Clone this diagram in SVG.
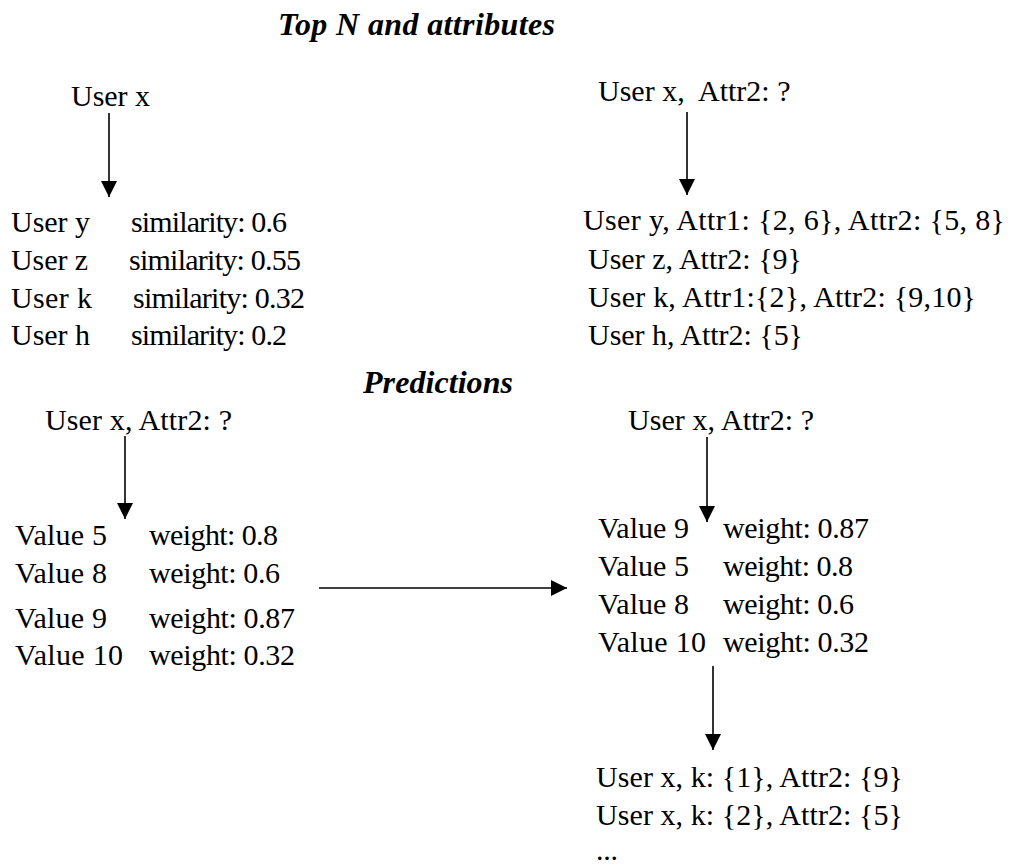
<svg xmlns="http://www.w3.org/2000/svg" width="1011" height="866" viewBox="0 0 1011 866">
<style>
text{font-family:"Liberation Serif","Times New Roman",serif;font-size:30px;fill:#000}
.h{font-weight:bold;font-style:italic;font-size:32px}
.c line{stroke:#000;stroke-width:1.6}
</style>
<defs>
<marker id="ahb" viewBox="0 0 16 16" refX="16" refY="8" markerWidth="16" markerHeight="16" markerUnits="userSpaceOnUse" orient="auto">
<path d="M0,0 L16,8 L0,16 z" fill="#000"/>
</marker>
</defs>
<rect width="1011" height="866" fill="#fff"/>
<g id="title-top"><text class="h" x="278" y="35" textLength="277" lengthAdjust="spacing">Top N and attributes</text></g>
<g id="title-pred"><text class="h" x="363" y="393" textLength="150" lengthAdjust="spacing">Predictions</text></g>

<g id="n-userx-1"><text x="71" y="106" textLength="79" lengthAdjust="spacing">User x</text></g>
<g id="n-similarities">
<text x="11" y="232" textLength="79" lengthAdjust="spacing">User y</text><text x="131" y="232" textLength="156" lengthAdjust="spacing">similarity: 0.6</text>
<text x="11" y="270" textLength="77" lengthAdjust="spacing">User z</text><text x="129" y="270" textLength="172" lengthAdjust="spacing">similarity: 0.55</text>
<text x="11" y="308" textLength="81" lengthAdjust="spacing">User k</text><text x="133" y="308" textLength="172" lengthAdjust="spacing">similarity: 0.32</text>
<text x="11" y="345" textLength="79" lengthAdjust="spacing">User h</text><text x="131" y="345" textLength="156" lengthAdjust="spacing">similarity: 0.2</text>
</g>

<g id="n-userx-2"><text x="598" y="101">User x,<tspan x="698">Attr2: ?</tspan></text></g>
<g id="n-attributes">
<text x="583" y="230" textLength="422" lengthAdjust="spacing">User y, Attr1: {2, 6}, Attr2: {5, 8}</text>
<text x="588" y="269" textLength="214" lengthAdjust="spacing">User z, Attr2: {9}</text>
<text x="588" y="307" textLength="388" lengthAdjust="spacing">User k, Attr1:{2}, Attr2: {9,10}</text>
<text x="588" y="345" textLength="215" lengthAdjust="spacing">User h, Attr2: {5}</text>
</g>

<g id="n-userx-3"><text x="45" y="430" textLength="187" lengthAdjust="spacing">User x, Attr2: ?</text></g>
<g id="n-values-1">
<text x="15" y="545" textLength="92" lengthAdjust="spacing">Value 5</text><text x="149" y="545" textLength="129" lengthAdjust="spacing">weight: 0.8</text>
<text x="15" y="583" textLength="92" lengthAdjust="spacing">Value 8</text><text x="149" y="583" textLength="131" lengthAdjust="spacing">weight: 0.6</text>
<text x="15" y="628" textLength="92" lengthAdjust="spacing">Value 9</text><text x="149" y="628" textLength="146" lengthAdjust="spacing">weight: 0.87</text>
<text x="15" y="665" textLength="108" lengthAdjust="spacing">Value 10</text><text x="149" y="665" textLength="146" lengthAdjust="spacing">weight: 0.32</text>
</g>

<g id="n-userx-4"><text x="628" y="430" textLength="186" lengthAdjust="spacing">User x, Attr2: ?</text></g>
<g id="n-values-2">
<text x="598" y="538" textLength="91" lengthAdjust="spacing">Value 9</text><text x="723" y="538" textLength="146" lengthAdjust="spacing">weight: 0.87</text>
<text x="598" y="576" textLength="91" lengthAdjust="spacing">Value 5</text><text x="723" y="576" textLength="130" lengthAdjust="spacing">weight: 0.8</text>
<text x="598" y="614" textLength="91" lengthAdjust="spacing">Value 8</text><text x="723" y="614" textLength="131" lengthAdjust="spacing">weight: 0.6</text>
<text x="598" y="652" textLength="108" lengthAdjust="spacing">Value 10</text><text x="723" y="652" textLength="146" lengthAdjust="spacing">weight: 0.32</text>
</g>

<g id="n-result">
<text x="596" y="787" textLength="307" lengthAdjust="spacing">User x, k: {1}, Attr2: {9}</text>
<text x="596" y="825" textLength="307" lengthAdjust="spacing">User x, k: {2}, Attr2: {5}</text>
<text x="596" y="860" textLength="22" lengthAdjust="spacing">...</text>
</g>

<g id="connectors" class="c">
<line x1="109" y1="113" x2="109" y2="197" marker-end="url(#ahb)"/>
<line x1="687" y1="112" x2="687" y2="195" marker-end="url(#ahb)"/>
<line x1="125" y1="436" x2="125" y2="519" marker-end="url(#ahb)"/>
<line x1="319" y1="588" x2="567" y2="588" marker-end="url(#ahb)"/>
<line x1="707" y1="437" x2="707" y2="522" marker-end="url(#ahb)"/>
<line x1="713" y1="666" x2="713" y2="750" marker-end="url(#ahb)"/>
</g>
</svg>
